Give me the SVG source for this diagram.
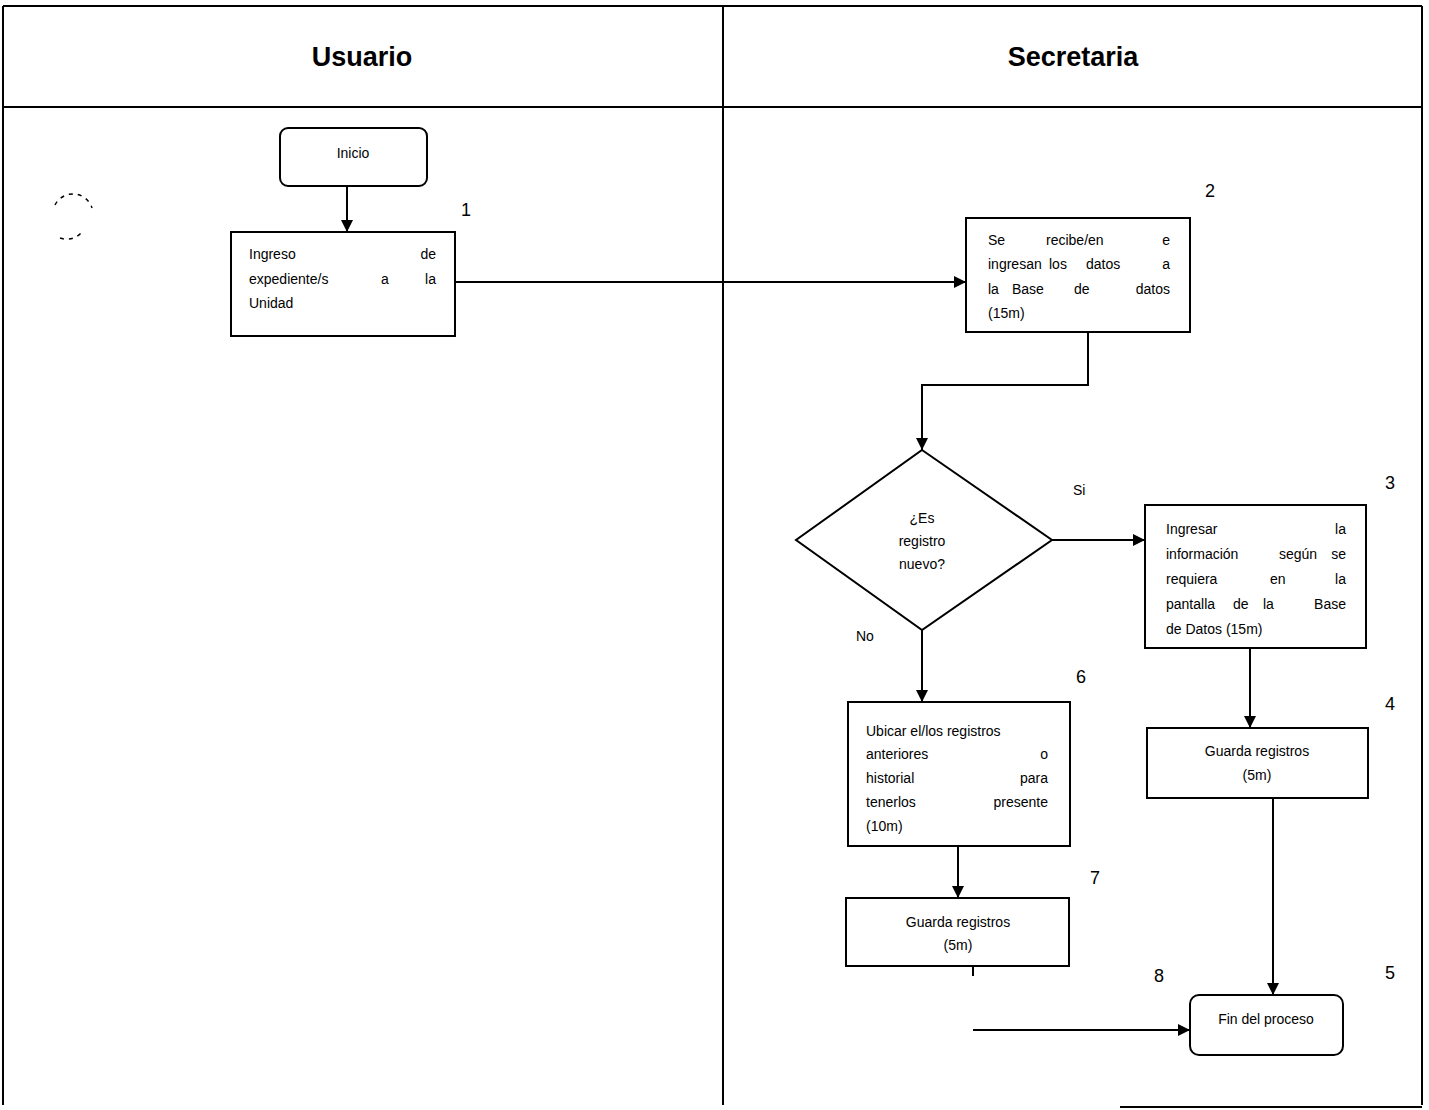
<svg xmlns="http://www.w3.org/2000/svg" width="1429" height="1110" viewBox="0 0 1429 1110">
  <style>
    .lane { fill: none; stroke: #000; stroke-width: 2; }
    .box { fill: #fff; stroke: #000; stroke-width: 2; }
    .conn { fill: none; stroke: #000; stroke-width: 2; }
    .hdr { font-family: "Liberation Sans", Arial, sans-serif; font-size: 27px; font-weight: bold; fill: #000; text-anchor: middle; }
    .t { font-family: "Liberation Sans", Arial, sans-serif; font-size: 14px; fill: #000; }
    .c { text-anchor: middle; }
    .e { text-anchor: end; }
    .num { font-family: "Liberation Sans", Arial, sans-serif; font-size: 18px; fill: #000; text-anchor: middle; }
  </style>
  <defs>
    <marker id="arrow" viewBox="0 0 10 10" refX="10" refY="5" markerWidth="12" markerHeight="12" orient="auto" markerUnits="userSpaceOnUse">
      <path d="M0,0 L10,5 L0,10 z" fill="#000"/>
    </marker>
  </defs>
  <rect width="1429" height="1110" fill="#fff"/>

  <!-- swimlanes -->
  <g id="lanes">
    <path class="lane" d="M3,6 H1422 M3,6 V1105 M723,6 V1105 M1422,6 V1105 M3,107 H1422 M1120,1107 H1422"/>
    <text class="hdr" x="362" y="66">Usuario</text>
    <text class="hdr" x="1073" y="66">Secretaria</text>
    <path d="M55,205 A20,20 0 0 1 92,208 M60,238 A20,20 0 0 0 82,232" fill="none" stroke="#000" stroke-width="1.5" stroke-dasharray="4,5"/>
  </g>

  <!-- connectors -->
  <g id="connectors">
    <path class="conn" d="M347,186 V232" marker-end="url(#arrow)"/>
    <path class="conn" d="M455,282 H966" marker-end="url(#arrow)"/>
    <path class="conn" d="M1088,332 V385 H922 V450" marker-end="url(#arrow)"/>
    <path class="conn" d="M1052,540 H1145" marker-end="url(#arrow)"/>
    <path class="conn" d="M922,630 V702" marker-end="url(#arrow)"/>
    <path class="conn" d="M1250,648 V728" marker-end="url(#arrow)"/>
    <path class="conn" d="M958,846 V898" marker-end="url(#arrow)"/>
    <path class="conn" d="M1273,798 V995" marker-end="url(#arrow)"/>
    <path class="conn" d="M973,966 V976"/>
    <path class="conn" d="M973,1030 H1190" marker-end="url(#arrow)"/>
    <text class="t" x="1073" y="495">Si</text>
    <text class="t" x="856" y="641">No</text>
  </g>

  <!-- Inicio -->
  <g id="inicio">
    <rect class="box" x="280" y="128" width="147" height="58" rx="8"/>
    <text class="t c" x="353" y="158">Inicio</text>
  </g>

  <!-- 1 -->
  <g id="paso1">
    <rect class="box" x="231" y="232" width="224" height="104"/>
    <text class="t" x="249" y="259">Ingreso</text><text class="t e" x="436" y="259">de</text>
    <text class="t" x="249" y="284">expediente/s</text><text class="t" x="381" y="284">a</text><text class="t e" x="436" y="284">la</text>
    <text class="t" x="249" y="308">Unidad</text>
    <text class="num" x="466" y="216">1</text>
  </g>

  <!-- 2 -->
  <g id="paso2">
    <rect class="box" x="966" y="218" width="224" height="114"/>
    <text class="t" x="988" y="245">Se</text><text class="t" x="1046" y="245">recibe/en</text><text class="t e" x="1170" y="245">e</text>
    <text class="t" x="988" y="269">ingresan</text><text class="t" x="1049" y="269">los</text><text class="t" x="1086" y="269">datos</text><text class="t e" x="1170" y="269">a</text>
    <text class="t" x="988" y="294">la</text><text class="t" x="1012" y="294">Base</text><text class="t" x="1074" y="294">de</text><text class="t e" x="1170" y="294">datos</text>
    <text class="t" x="988" y="318">(15m)</text>
    <text class="num" x="1210" y="197">2</text>
  </g>

  <!-- decision -->
  <g id="decision">
    <path class="box" d="M922,450 L1052,540 L922,630 L796,540 z"/>
    <text class="t c" x="922" y="523">¿Es</text>
    <text class="t c" x="922" y="546">registro</text>
    <text class="t c" x="922" y="569">nuevo?</text>
  </g>

  <!-- 3 -->
  <g id="paso3">
    <rect class="box" x="1145" y="505" width="221" height="143"/>
    <text class="t" x="1166" y="534">Ingresar</text><text class="t e" x="1346" y="534">la</text>
    <text class="t" x="1166" y="559">información</text><text class="t" x="1279" y="559">según</text><text class="t e" x="1346" y="559">se</text>
    <text class="t" x="1166" y="584">requiera</text><text class="t" x="1270" y="584">en</text><text class="t e" x="1346" y="584">la</text>
    <text class="t" x="1166" y="609">pantalla</text><text class="t" x="1233" y="609">de</text><text class="t" x="1263" y="609">la</text><text class="t e" x="1346" y="609">Base</text>
    <text class="t" x="1166" y="634">de Datos (15m)</text>
    <text class="num" x="1390" y="489">3</text>
  </g>

  <!-- 4 -->
  <g id="paso4">
    <rect class="box" x="1147" y="728" width="221" height="70"/>
    <text class="t c" x="1257" y="756">Guarda registros</text>
    <text class="t c" x="1257" y="780">(5m)</text>
    <text class="num" x="1390" y="710">4</text>
  </g>

  <!-- 6 -->
  <g id="paso6">
    <rect class="box" x="848" y="702" width="222" height="144"/>
    <text class="t" x="866" y="736">Ubicar el/los registros</text>
    <text class="t" x="866" y="759">anteriores</text><text class="t e" x="1048" y="759">o</text>
    <text class="t" x="866" y="783">historial</text><text class="t e" x="1048" y="783">para</text>
    <text class="t" x="866" y="807">tenerlos</text><text class="t e" x="1048" y="807">presente</text>
    <text class="t" x="866" y="831">(10m)</text>
    <text class="num" x="1081" y="683">6</text>
  </g>

  <!-- 7 -->
  <g id="paso7">
    <rect class="box" x="846" y="898" width="223" height="68"/>
    <text class="t c" x="958" y="927">Guarda registros</text>
    <text class="t c" x="958" y="950">(5m)</text>
    <text class="num" x="1095" y="884">7</text>
  </g>

  <!-- Fin -->
  <g id="fin">
    <rect class="box" x="1190" y="995" width="153" height="60" rx="9"/>
    <text class="t c" x="1266" y="1024">Fin del proceso</text>
    <text class="num" x="1159" y="982">8</text>
    <text class="num" x="1390" y="979">5</text>
  </g>
</svg>
